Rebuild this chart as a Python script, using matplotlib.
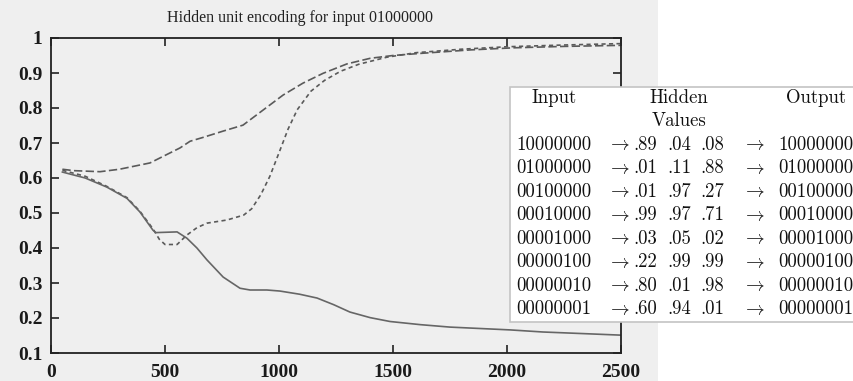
import matplotlib
matplotlib.use("Agg")
import matplotlib.pyplot as plt
from matplotlib.patches import Rectangle

plt.rcParams['mathtext.fontset'] = 'cm'

# ---- data ----
title = "Hidden unit encoding for input 01000000"
x_ticks = [0, 500, 1000, 1500, 2000, 2500]
y_ticks = [0.1, 0.2, 0.3, 0.4, 0.5, 0.6, 0.7, 0.8, 0.9, 1.0]
y_tick_labels = ["0.1", "0.2", "0.3", "0.4", "0.5", "0.6", "0.7", "0.8", "0.9", "1"]

a_x = [50, 100, 215, 300, 434, 566, 610, 667, 755, 842, 930, 1018, 1105, 1193,
       1298, 1400, 1500, 1620, 1840, 2030, 2250, 2500]
a_y = [0.625, 0.621, 0.618, 0.625, 0.643, 0.686, 0.705, 0.716, 0.734, 0.751, 0.794,
       0.837, 0.871, 0.899, 0.926, 0.942, 0.950, 0.956, 0.966, 0.972, 0.976, 0.979]

b_x = [50, 150, 245, 333, 390, 447, 475, 500, 553, 596, 640, 684, 772, 845, 880,
       920, 960, 1000, 1040, 1080, 1140, 1200, 1270, 1350, 1472, 1600, 1800, 2000,
       2250, 2500]
b_y = [0.622, 0.605, 0.576, 0.544, 0.505, 0.455, 0.425, 0.410, 0.410, 0.437, 0.458,
       0.471, 0.480, 0.494, 0.512, 0.552, 0.605, 0.672, 0.740, 0.795, 0.848, 0.879,
       0.905, 0.925, 0.945, 0.958, 0.968, 0.975, 0.980, 0.984]

c_x = [50, 150, 245, 333, 390, 447, 460, 553, 596, 640, 684, 755, 829, 873, 947,
       1004, 1090, 1167, 1240, 1311, 1400, 1487, 1620, 1750, 2013, 2158, 2350, 2500]
c_y = [0.617, 0.600, 0.574, 0.542, 0.503, 0.451, 0.444, 0.446, 0.428, 0.400, 0.366,
       0.317, 0.285, 0.280, 0.280, 0.277, 0.268, 0.257, 0.238, 0.217, 0.201, 0.190,
       0.181, 0.174, 0.166, 0.160, 0.155, 0.151]

table_header = ["Input", "Hidden", "Output"]
table_header2 = "Values"
table_inputs = ["10000000", "01000000", "00100000", "00010000",
                "00001000", "00000100", "00000010", "00000001"]
table_hidden = [[".89", ".04", ".08"], [".01", ".11", ".88"], [".01", ".97", ".27"],
                [".99", ".97", ".71"], [".03", ".05", ".02"], [".22", ".99", ".99"],
                [".80", ".01", ".98"], [".60", ".94", ".01"]]
table_outputs = table_inputs

# ---- figure ----
W, H = 854, 381
fig = plt.figure(figsize=(W / 100, H / 100), dpi=100)
fig.patch.set_facecolor('white')
bg = '#efefef'

def fx(px):
    return px / W

def fy(py):
    return 1 - py / H

fig.patches.append(Rectangle((0, 0), fx(658), 1, transform=fig.transFigure,
                             facecolor=bg, edgecolor='none', zorder=-5))

ax = fig.add_axes([fx(51), fy(353), fx(621) - fx(51), fy(38) - fy(353)])
ax.set_zorder(1)
ax.set_facecolor(bg)
ax.plot(a_x, a_y, color='#5a5a5a', lw=1.2, dashes=(5, 2))
ax.plot(b_x, b_y, color='#5a5a5a', lw=1.2, dashes=(2.5, 2))
ax.plot(c_x, c_y, color='#666666', lw=1.2)
ax.set_xlim(0, 2500)
ax.set_ylim(0.1, 1.0)
ax.set_xticks(x_ticks)
ax.set_xticklabels([str(v) for v in x_ticks])
ax.set_yticks(y_ticks)
ax.set_yticklabels(y_tick_labels)
for sp in ax.spines.values():
    sp.set_linewidth(1.3)
    sp.set_color('#222222')
ax.tick_params(direction='in', length=6, width=1.2, top=True, right=True,
               labelsize=14, colors='#222222')
ax.tick_params(axis='y', pad=6)
ax.tick_params(axis='x', pad=8)
for lab in ax.get_xticklabels() + ax.get_yticklabels():
    lab.set_fontfamily('Liberation Serif')
    lab.set_fontweight('bold')
    lab.set_color('#1a1a1a')

fig.text(fx(300), fy(18), title, ha='center', va='center',
         family='Liberation Serif', fontsize=11.5, color='#222222')

# ---- table (drawn in an overlay axes so it sits above the plot) ----
tax = fig.add_axes([0, 0, 1, 1])
tax.set_zorder(5)
tax.set_xlim(0, W)
tax.set_ylim(H, 0)
tax.axis('off')
tax.add_patch(Rectangle((510, 87), 360, 235, facecolor='white',
                        edgecolor='#c4c4c4', lw=1.2))
fs = 13.5
col_in = 554
col_arr1 = 618
col_h = [645, 679, 712]
col_arr2 = 753
col_out = 816
hdr_y = 98
row0 = 145
dy = 23.43
tk = dict(ha='center', va='center', fontsize=fs, family='cmr10', color='#111111')

tax.text(col_in, hdr_y, table_header[0], **tk)
tax.text(col_h[1], hdr_y, table_header[1], **tk)
tax.text(col_out, hdr_y, table_header[2], **tk)
tax.text(col_h[1], hdr_y + dy, table_header2, **tk)
for i, (inp, hid, out) in enumerate(zip(table_inputs, table_hidden, table_outputs)):
    y = row0 + i * dy
    tax.text(col_in, y, inp, **tk)
    tax.text(col_arr1, y, r'$\rightarrow$', ha='center', va='center', fontsize=fs, color='#111111')
    for cx, hv in zip(col_h, hid):
        tax.text(cx, y, hv, **tk)
    tax.text(col_arr2, y, r'$\rightarrow$', ha='center', va='center', fontsize=fs, color='#111111')
    tax.text(col_out, y, out, **tk)

fig.savefig('out.png', dpi=100)
